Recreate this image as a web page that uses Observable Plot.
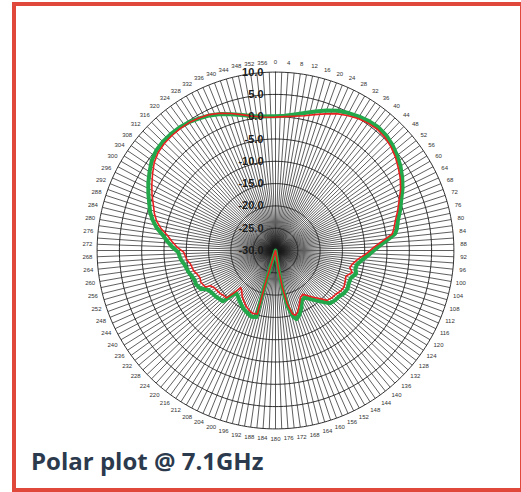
<!DOCTYPE html>
<html><head><meta charset="utf-8">
<script src="https://cdn.jsdelivr.net/npm/d3@7"></script>
<script src="https://cdn.jsdelivr.net/npm/@observablehq/plot@0.6"></script>
<style>
html,body{margin:0;padding:0;background:#fff;}
body{width:521px;height:492px;overflow:hidden;position:relative;}
#chart{position:absolute;left:0;top:0;}
#frame{position:absolute;left:12px;top:2px;width:512px;height:490px;box-sizing:border-box;border:4.5px solid #e0483b;}
#title{position:absolute;left:31px;top:444px;font-family:"Open Sans",sans-serif;font-weight:700;font-size:24px;color:#2c3a4e;white-space:nowrap;}
</style></head>
<body>
<div id="chart"></div>
<div id="frame"></div>
<div id="title">Polar plot @ 7.1GHz</div>
<script>
// Measurement angles (degrees, clockwise from top)
const angles = [0,4,8,12,16,20,24,28,32,36,40,44,48,52,56,60,64,68,72,76,80,82,84,88,92,96,100,103,106,110,114,118,122,126,130,134,137,141,145,148,152,156,160,163,165,167.5,169.5,171,180,197,196,200,204,208,212,216,220,223,224.5,226,229,232,236,239,241.5,242.5,247,250,253,256,261,264,266,269,272,275,278,281,284,287,290,294,298,302,306,310,314,318,322,326,330,334,338,342,346,350,354,358,360];
// Red series (dB)
const redDb = [-0.1,0.1,0.4,0.9,1.7,2.6,3.6,4.3,4.9,5.3,5.5,5.3,4.8,4.1,3.2,2.3,1.2,-0.1,-1.2,-2.3,-3.1,-3.6,-5.2,-7.9,-9.6,-11.4,-12.5,-12.9,-12.1,-13.2,-12.9,-12.6,-12.8,-13.3,-13.5,-13.9,-15.2,-16.5,-17.7,-18.4,-18.1,-16.8,-15.4,-14.8,-15.3,-17.8,-21.5,-26,-30,-22,-15.2,-15.0,-15.4,-15.9,-16.6,-17.3,-18.2,-18.6,-16.5,-14.7,-14.6,-14.3,-14.1,-13.9,-13.4,-12.3,-11.8,-12.0,-11.7,-11.1,-10.7,-10.0,-9.8,-9.4,-7.9,-6.7,-5.5,-3.8,-2.5,-1.6,-0.9,0.3,1.4,2.5,3.6,4.3,4.6,4.7,4.7,4.6,4.3,3.9,3.2,2.3,1.4,0.6,0.1,-0.1,-0.1];
// Green series (dB)
const greenDb = [0.1,0.3,0.8,1.5,2.4,3.4,4.3,4.9,5.4,5.8,6.0,5.8,5.3,4.6,3.8,2.8,1.7,0.4,-0.6,-1.7,-2.4,-2.9,-4.4,-7.0,-8.8,-10.4,-11.5,-11.6,-11.2,-12.0,-12.0,-11.7,-11.9,-12.4,-12.6,-13.0,-14.2,-15.6,-16.8,-17.6,-17.4,-15.8,-14.5,-13.9,-14.6,-17.0,-21.0,-25.5,-30,-21,-14.5,-14.2,-14.6,-15.0,-15.6,-16.2,-16.8,-17.0,-15.5,-13.6,-13.4,-13.1,-12.9,-12.6,-12.0,-11.2,-10.6,-10.7,-10.4,-9.9,-9.4,-8.8,-8.5,-8.2,-6.8,-5.6,-4.4,-2.8,-1.6,-0.6,0.1,1.2,2.3,3.3,4.3,4.9,5.1,5.1,5.0,4.7,4.2,3.7,3.0,2.1,1.3,0.6,0.2,0.1,0.1];
// Radial scale rings (dB) and their labels
const ringDb = [10,5,0,-5,-10,-15,-20,-25,-30];
const ringLabels = ["10.0","5.0","0.0","-5.0","-10.0","-15.0","-20.0","-25.0","-30.0"];
// Angular tick labels
const angleTicks = [0,4,8,12,16,20,24,28,32,36,40,44,48,52,56,60,64,68,72,76,80,84,88,92,96,100,104,108,112,116,120,124,128,132,136,140,144,148,152,156,160,164,168,172,176,180,184,188,192,196,200,204,208,212,216,220,224,228,232,236,240,244,248,252,256,260,264,268,272,276,280,284,288,292,296,300,304,308,312,316,320,324,328,332,336,340,344,348,352,356];

const minDb = -30, maxDb = 10;
const R = maxDb - minDb;
const rad = Math.PI / 180;
const px = (a, db) => (db - minDb) * Math.sin(a * rad);
const py = (a, db) => (db - minDb) * Math.cos(a * rad);

const redPts = angles.map((a, i) => ({a, db: redDb[i]}));
const greenPts = angles.map((a, i) => ({a, db: greenDb[i]}));

const spokes = d3.range(0, 360, 2);
const ringPts = ringDb.filter(d => d > minDb).flatMap(db => d3.range(0, 361, 1).map(a => ({db, a})));

const chart = Plot.plot({
  width: 521, height: 440,
  marginLeft: 96.6, marginRight: 67.6, marginTop: 71.6, marginBottom: 11.6,
  style: {background: "transparent", overflow: "visible"},
  x: {domain: [-R, R], axis: null},
  y: {domain: [-R, R], axis: null},
  marks: [
    Plot.link(spokes, {x1: () => 0, y1: () => 0, x2: a => px(a, maxDb), y2: a => py(a, maxDb), stroke: "#1a1a1a", strokeWidth: 0.7}),
    Plot.line(ringPts, {x: d => px(d.a, d.db), y: d => py(d.a, d.db), z: "db", stroke: "#1a1a1a", strokeWidth: 0.9, curve: "linear"}),
    Plot.line(greenPts, {x: d => px(d.a, d.db), y: d => py(d.a, d.db), stroke: "#22a84a", strokeWidth: 4, strokeLinejoin: "round"}),
    Plot.line(redPts, {x: d => px(d.a, d.db), y: d => py(d.a, d.db), stroke: "#e8201f", strokeWidth: 1.6, strokeLinejoin: "round"}),
    Plot.text(ringDb, {x: () => 0, y: db => db - minDb, text: (d, i) => ringLabels[i], textAnchor: "end", dx: -12, fontWeight: "bold", fontSize: 11, fill: "#1a1a1a", fontFamily: "Arial, 'Liberation Sans', sans-serif"}),
    Plot.text(angleTicks, {x: a => px(a, maxDb + 2.2), y: a => py(a, maxDb + 2.2), text: d => String(d), fontSize: 6, fill: "#333", fontFamily: "Arial, 'Liberation Sans', sans-serif"})
  ]
});
document.getElementById("chart").appendChild(chart);
</script>
</body></html>
